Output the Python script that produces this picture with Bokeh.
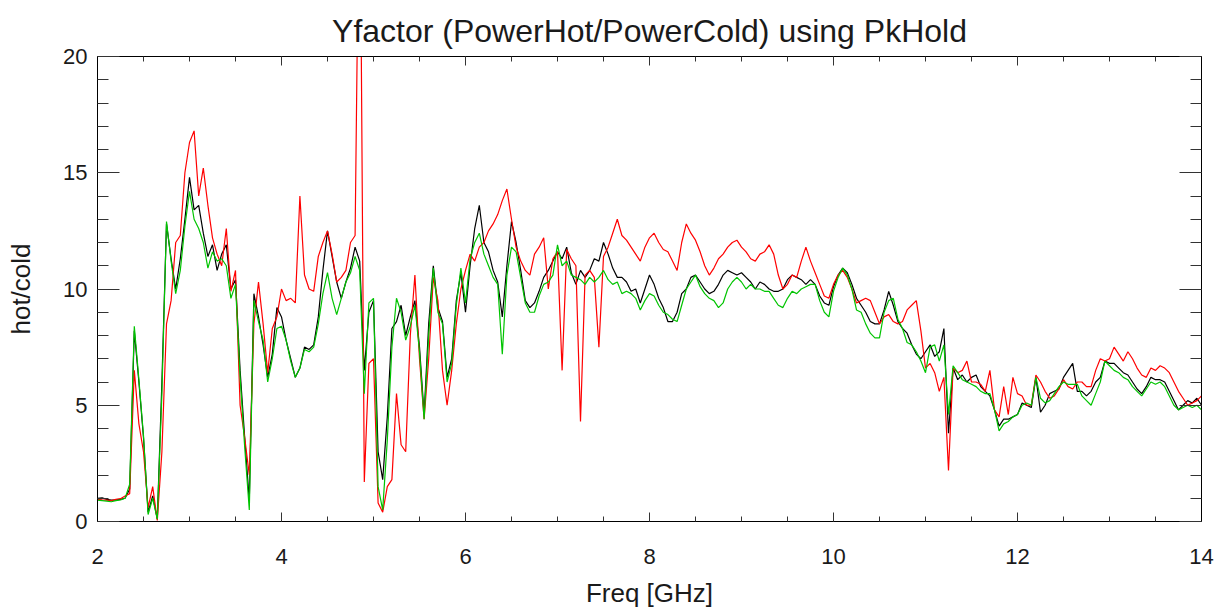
import numpy as np
from bokeh.plotting import figure
from bokeh.models import LinearAxis, SingleIntervalTicker, Range1d, CustomLabelingPolicy
from bokeh.embed import file_html
from bokeh.resources import INLINE

# Frequency grid [GHz]
freq = np.round(np.linspace(2.0, 14.0, 241), 2)

black = [
    1.00, 1.02, 0.95, 0.92, 0.93, 0.95, 1.00, 1.40, 8.20, 6.00, 3.60, 0.40, 1.10, 0.10, 6.00, 12.80, 11.30, 10.00, 11.30, 13.00,
    14.8, 13.4, 13.6, 12.4, 11.4, 11.9, 10.8, 11.5, 11.9, 10.0, 10.4, 6.5, 3.6, 0.9, 9.8, 8.8, 7.6, 6.2, 7.2, 9.2,
    8.8, 7.8, 7.0, 6.2, 6.6, 7.5, 7.4, 7.6, 8.8, 10.8, 12.5, 11.4, 10.3, 9.6, 10.3, 10.9, 11.8, 11.2, 6.5, 9.0,
    9.5, 3.0, 1.8, 4.5, 8.3, 8.6, 9.3, 8.0, 8.8, 9.5, 7.5, 4.6, 8.5, 11.0, 9.2, 8.6, 6.2, 7.0, 9.5, 10.7,
    9.0, 11.0, 12.6, 13.6, 12.0, 11.6, 10.8, 10.3, 8.8, 11.0, 12.9, 12.0, 10.8, 9.5, 9.2, 9.4, 9.9, 10.5, 10.8, 11.2,
    11.6, 11.3, 11.8, 10.7, 10.2, 10.8, 10.5, 10.8, 11.3, 11.2, 12.0, 11.5, 10.9, 10.5, 10.5, 10.3, 9.9, 10.0, 9.4, 10.0,
    10.6, 10.2, 9.6, 9.2, 8.6, 8.6, 9.0, 9.8, 10.0, 10.5, 10.6, 10.3, 10.0, 9.8, 9.9, 10.2, 10.6, 10.8, 10.7, 10.6,
    10.7, 10.5, 10.3, 10.0, 10.3, 10.2, 10.0, 9.9, 9.9, 10.0, 10.4, 10.6, 10.5, 10.4, 10.2, 10.4, 10.2, 9.7, 9.4, 9.3,
    10.1, 10.6, 10.9, 10.7, 10.2, 9.6, 9.3, 9.0, 8.6, 8.5, 8.5, 9.1, 9.9, 9.3, 8.6, 8.3, 8.1, 7.6, 7.2, 7.0,
    7.3, 7.6, 7.1, 7.3, 8.3, 3.8, 6.6, 6.1, 6.3, 6.0, 6.2, 6.3, 5.8, 5.6, 5.4, 4.8, 4.1, 4.4, 4.4, 4.5,
    4.6, 5.1, 5.0, 4.9, 6.2, 4.7, 5.0, 5.5, 5.6, 5.7, 6.2, 6.5, 6.8, 5.6, 5.6, 5.4, 5.6, 6.0, 6.2, 6.9,
    6.8, 6.8, 6.6, 6.4, 6.3, 6.0, 5.7, 5.5, 5.8, 6.2, 6.1, 6.1, 6.0, 5.6, 5.2, 4.8, 5.0, 5.2, 5.1, 5.3,
    5.0,
]

red = [
    0.95, 0.93, 0.92, 0.90, 0.95, 0.98, 1.10, 1.20, 6.50, 4.20, 3.00, 0.60, 1.50, 0.05, 3.00, 8.50, 9.50, 12.00, 12.30, 15.00,
    16.3, 16.8, 14.0, 15.2, 13.6, 12.2, 11.5, 11.0, 12.6, 9.9, 10.8, 5.0, 3.6, 2.0, 8.5, 10.3, 8.5, 6.4, 8.3, 8.8,
    10.0, 9.5, 9.6, 9.4, 14.0, 10.6, 10.0, 9.9, 11.4, 12.0, 12.5, 11.5, 10.3, 10.5, 10.8, 12.0, 12.3, 30.0, 1.7, 6.8,
    7.0, 0.8, 0.4, 1.5, 1.8, 5.5, 3.3, 3.0, 8.0, 10.6, 7.0, 4.4, 7.0, 10.5, 9.5, 6.5, 5.0, 6.5, 8.5, 10.0,
    10.8, 11.5, 11.2, 11.8, 12.0, 12.5, 12.8, 13.2, 13.8, 14.3, 13.0, 11.8, 11.2, 10.8, 10.6, 11.5, 11.8, 12.2, 10.0, 11.3,
    11.6, 6.5, 11.7, 11.3, 11.0, 4.3, 10.6, 10.8, 10.5, 7.5, 11.4, 11.8, 12.4, 13.0, 12.3, 12.1, 11.8, 11.5, 11.2, 11.8,
    12.2, 12.4, 12.0, 11.7, 11.6, 11.2, 10.8, 12.0, 12.8, 12.4, 12.1, 11.6, 11.0, 10.6, 10.9, 11.3, 11.5, 11.8, 12.0, 12.1,
    11.8, 11.6, 11.3, 11.2, 11.5, 11.6, 11.9, 11.5, 10.6, 10.0, 10.2, 10.6, 10.5, 11.2, 11.8, 11.2, 10.7, 10.2, 9.7, 9.6,
    10.2, 10.6, 10.8, 10.5, 10.0, 9.4, 9.5, 9.6, 9.5, 9.0, 8.5, 8.8, 8.9, 8.6, 8.5, 8.6, 9.1, 9.3, 9.5, 8.2,
    6.6, 6.8, 6.4, 5.6, 6.2, 2.2, 6.6, 6.4, 6.5, 6.9, 6.0, 6.0, 5.9, 5.6, 6.5, 4.8, 4.5, 5.8, 4.6, 6.2,
    5.5, 5.4, 5.0, 5.0, 6.3, 6.0, 5.6, 5.3, 5.4, 5.7, 6.1, 5.8, 5.7, 6.0, 6.0, 5.8, 5.8, 6.5, 7.0, 6.9,
    7.0, 7.5, 7.2, 6.9, 7.3, 7.0, 6.6, 6.3, 6.2, 6.6, 6.5, 6.7, 6.6, 6.4, 6.0, 5.6, 5.3, 5.0, 5.1, 5.2,
    5.4,
]

green = [
    0.92, 0.90, 0.88, 0.85, 0.90, 0.93, 1.00, 1.60, 8.40, 6.10, 3.70, 0.30, 1.00, 0.10, 5.50, 12.90, 11.20, 9.80, 10.80, 12.70,
    14.2, 13.0, 12.6, 12.0, 10.9, 11.6, 11.2, 11.3, 11.0, 9.6, 10.2, 6.2, 3.2, 0.5, 9.5, 8.6, 7.8, 6.0, 7.0, 8.3,
    8.4, 7.8, 6.9, 6.2, 6.6, 7.4, 7.3, 7.5, 8.5, 9.8, 10.7, 9.6, 8.9, 9.6, 10.3, 10.7, 11.4, 10.8, 5.5, 9.4,
    9.6, 1.5, 0.5, 3.5, 7.5, 9.6, 9.0, 7.8, 8.4, 9.3, 7.3, 4.4, 8.0, 10.9, 9.0, 8.5, 6.0, 6.8, 9.3, 10.9,
    9.4, 11.3, 12.0, 12.4, 11.5, 11.0, 10.5, 10.2, 7.2, 10.6, 11.8, 11.6, 10.5, 9.4, 9.0, 9.0, 9.7, 10.2, 10.3, 10.6,
    11.9, 11.0, 11.2, 10.6, 10.5, 10.4, 10.2, 10.5, 10.3, 10.5, 10.8, 10.4, 10.2, 10.3, 9.8, 9.9, 9.8, 9.6, 9.1, 9.5,
    9.8, 9.7, 9.3, 9.0, 8.9, 8.7, 8.6, 9.3, 10.0, 10.3, 10.6, 10.1, 9.8, 9.6, 9.5, 9.2, 9.4, 10.0, 10.3, 10.5,
    10.3, 10.0, 10.2, 10.0, 10.0, 9.9, 9.9, 9.6, 9.3, 9.2, 9.6, 9.9, 9.8, 10.0, 10.1, 10.2, 10.2, 9.5, 9.0, 8.8,
    9.9, 10.5, 10.9, 10.6, 10.0, 9.1, 9.0, 8.5, 8.1, 7.9, 7.9, 9.0, 9.5, 9.6, 8.7, 8.3, 7.7, 7.6, 7.3, 6.9,
    6.4, 7.5, 7.6, 6.9, 7.6, 4.6, 6.7, 6.4, 6.1, 6.0, 5.9, 5.8, 5.6, 5.5, 5.5, 4.8, 3.9, 4.2, 4.3, 4.5,
    4.6, 5.0, 5.1, 5.0, 6.2, 5.3, 5.1, 5.2, 5.5, 5.8, 6.0, 5.9, 5.9, 5.9, 5.4, 5.2, 5.0, 5.5, 6.0, 6.9,
    6.7, 6.5, 6.4, 6.2, 6.1, 5.8, 5.6, 5.4, 5.7, 6.0, 5.9, 6.0, 5.8, 5.4, 5.0, 4.8, 4.9, 5.0, 4.9, 5.0,
    4.8,
]

x_ticks_interval = 2
y_ticks_interval = 5

FONT = "Liberation Sans"
TXT = "#1a1a1a"

p = figure(
    frame_width=1104, frame_height=465,
    x_range=Range1d(2, 14), y_range=Range1d(0, 20),
    output_backend="svg", toolbar_location=None,
    min_border_left=97, min_border_right=22, min_border_top=56, min_border_bottom=89,
    title="Yfactor (PowerHot/PowerCold) using PkHold",
    background_fill_color="white", border_fill_color="white",
)
p.title.align = "center"
p.title.text_font = FONT
p.title.text_font_style = "normal"
p.title.text_font_size = "32px"
p.title.text_color = TXT
p.title.standoff = 16

p.grid.visible = False
p.outline_line_color = "black"
p.outline_line_width = 1

xt = SingleIntervalTicker(interval=x_ticks_interval, num_minor_ticks=4)
yt = SingleIntervalTicker(interval=y_ticks_interval, num_minor_ticks=5)

no_labels = CustomLabelingPolicy(code="return new Set()")


def style_common(ax, labels):
    ax.axis_line_color = "black"
    ax.major_tick_line_color = "#333333"
    ax.minor_tick_line_color = "#333333"
    ax.major_label_text_font = FONT
    ax.major_label_text_color = TXT
    if labels:
        ax.major_label_text_font_size = "22px"
    else:
        ax.major_label_text_font_size = "0px"
        ax.major_label_policy = no_labels
        ax.major_label_standoff = 0


def style_x(ax, labels=True):
    ax.ticker = xt
    ax.major_tick_in = 9
    ax.major_tick_out = 0
    ax.minor_tick_in = 5
    ax.minor_tick_out = 0
    ax.major_label_standoff = 27
    style_common(ax, labels)


def style_y(ax, labels=True):
    ax.ticker = yt
    ax.major_tick_in = 22
    ax.major_tick_out = 0
    ax.minor_tick_in = 11
    ax.minor_tick_out = 0
    ax.major_label_standoff = 10
    style_common(ax, labels)


style_x(p.xaxis[0])
style_y(p.yaxis[0])
p.xaxis.axis_label = "Freq [GHz]"
p.yaxis.axis_label = "hot/cold"
for ax in (p.xaxis[0], p.yaxis[0]):
    ax.axis_label_text_font = FONT
    ax.axis_label_text_font_style = "normal"
    ax.axis_label_text_font_size = "26px"
    ax.axis_label_text_color = TXT
p.xaxis.axis_label_standoff = 11
p.yaxis.axis_label_standoff = 24

top = LinearAxis()
style_x(top, labels=False)
p.add_layout(top, "above")
right = LinearAxis()
style_y(right, labels=False)
p.add_layout(right, "right")

p.line(freq, black, line_color="black", line_width=1.2)
p.line(freq, red, line_color="#ff0000", line_width=1.2)
p.line(freq, green, line_color="#00c400", line_width=1.2)

open("out.html", "w").write(file_html(p, INLINE))
